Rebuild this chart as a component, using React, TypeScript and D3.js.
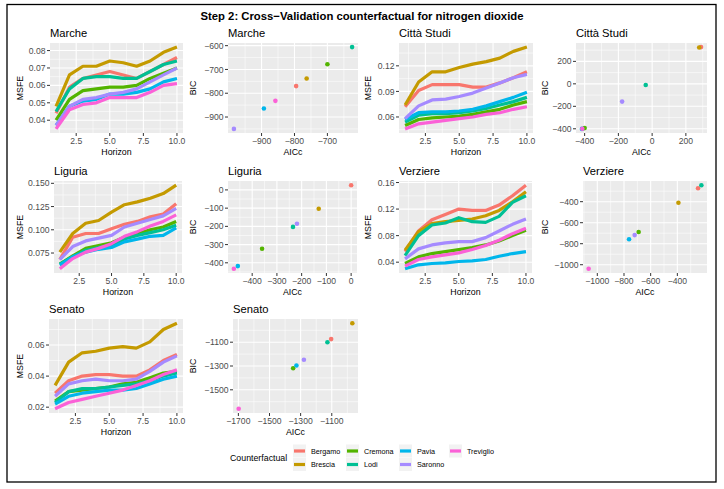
import React from "react";
import * as d3 from "d3";

const counterfactuals = ["Bergamo", "Brescia", "Cremona", "Lodi", "Pavia", "Saronno", "Treviglio"];
const palette = ["#F8766D", "#C49A00", "#53B400", "#00C094", "#00B6EB", "#A58AFF", "#FB61D7"];
const horizons = [1, 2, 3, 4, 5, 6, 7, 8, 9, 10];
const horizonTicks = [2.5, 5, 7.5, 10];

// MSFE by horizon, one row per counterfactual (Bergamo..Treviglio)
const msfeMarche = [
  [0.044, 0.059, 0.064, 0.066, 0.068, 0.066, 0.064, 0.068, 0.072, 0.076],
  [0.048, 0.066, 0.071, 0.071, 0.074, 0.073, 0.071, 0.074, 0.079, 0.082],
  [0.040, 0.052, 0.057, 0.058, 0.059, 0.059, 0.060, 0.064, 0.067, 0.070],
  [0.045, 0.058, 0.064, 0.065, 0.065, 0.064, 0.064, 0.068, 0.072, 0.074],
  [0.037, 0.048, 0.051, 0.052, 0.055, 0.055, 0.056, 0.058, 0.062, 0.064],
  [0.037, 0.048, 0.052, 0.053, 0.055, 0.056, 0.058, 0.062, 0.066, 0.070],
  [0.035, 0.046, 0.049, 0.050, 0.053, 0.053, 0.053, 0.056, 0.060, 0.061],
];
const msfeCittaStudi = [
  [0.072, 0.091, 0.098, 0.098, 0.098, 0.095, 0.095, 0.100, 0.106, 0.113],
  [0.074, 0.101, 0.113, 0.113, 0.118, 0.122, 0.125, 0.129, 0.137, 0.142],
  [0.050, 0.057, 0.059, 0.060, 0.061, 0.063, 0.066, 0.069, 0.074, 0.078],
  [0.054, 0.062, 0.064, 0.064, 0.065, 0.067, 0.070, 0.074, 0.078, 0.083],
  [0.057, 0.065, 0.066, 0.066, 0.067, 0.069, 0.073, 0.078, 0.083, 0.089],
  [0.058, 0.073, 0.080, 0.081, 0.084, 0.088, 0.094, 0.100, 0.106, 0.110],
  [0.046, 0.052, 0.054, 0.056, 0.058, 0.060, 0.063, 0.065, 0.069, 0.072],
];
const msfeLiguria = [
  [0.068, 0.092, 0.096, 0.096, 0.101, 0.106, 0.109, 0.114, 0.117, 0.128],
  [0.076, 0.096, 0.107, 0.110, 0.119, 0.127, 0.130, 0.134, 0.139, 0.148],
  [0.063, 0.072, 0.080, 0.083, 0.086, 0.092, 0.096, 0.100, 0.103, 0.109],
  [0.063, 0.071, 0.078, 0.081, 0.083, 0.090, 0.094, 0.097, 0.100, 0.105],
  [0.062, 0.071, 0.076, 0.079, 0.081, 0.087, 0.090, 0.093, 0.094, 0.102],
  [0.068, 0.082, 0.088, 0.091, 0.094, 0.103, 0.107, 0.111, 0.115, 0.123],
  [0.058, 0.069, 0.076, 0.080, 0.085, 0.093, 0.098, 0.104, 0.109, 0.116],
];
const msfeVerziere = [
  [0.056, 0.087, 0.104, 0.112, 0.120, 0.118, 0.118, 0.126, 0.140, 0.156],
  [0.058, 0.086, 0.098, 0.101, 0.103, 0.105, 0.110, 0.118, 0.131, 0.146],
  [0.038, 0.048, 0.053, 0.056, 0.059, 0.062, 0.066, 0.072, 0.080, 0.088],
  [0.050, 0.080, 0.096, 0.099, 0.107, 0.101, 0.100, 0.109, 0.130, 0.140],
  [0.030, 0.036, 0.038, 0.039, 0.041, 0.042, 0.044, 0.049, 0.053, 0.056],
  [0.045, 0.060, 0.066, 0.069, 0.071, 0.071, 0.077, 0.087, 0.097, 0.105],
  [0.034, 0.044, 0.048, 0.051, 0.054, 0.059, 0.065, 0.073, 0.083, 0.091],
];
const msfeSenato = [
  [0.029, 0.037, 0.040, 0.041, 0.041, 0.040, 0.040, 0.044, 0.050, 0.054],
  [0.034, 0.049, 0.055, 0.056, 0.058, 0.059, 0.058, 0.062, 0.070, 0.074],
  [0.024, 0.030, 0.031, 0.032, 0.033, 0.035, 0.036, 0.039, 0.042, 0.043],
  [0.023, 0.030, 0.032, 0.032, 0.033, 0.034, 0.035, 0.037, 0.040, 0.042],
  [0.022, 0.027, 0.029, 0.030, 0.031, 0.031, 0.032, 0.035, 0.038, 0.040],
  [0.027, 0.035, 0.037, 0.038, 0.037, 0.037, 0.038, 0.043, 0.049, 0.053],
  [0.019, 0.023, 0.025, 0.027, 0.029, 0.031, 0.034, 0.037, 0.041, 0.044],
];

// AICc and BIC per counterfactual (Bergamo..Treviglio)
const aiccMarche = [-795, -763, -700, -625, -893, -984, -858];
const bicMarche = [-770, -738, -678, -606, -864, -950, -832];
const aiccCittaStudi = [290, 279, -400, -38, -416, -178, -414];
const bicCittaStudi = [327, 324, -394, -10, -401, -158, -400];
const aiccLiguria = [0, -131, -360, -235, -458, -219, -474];
const bicLiguria = [26, -103, -323, -203, -418, -186, -433];
const aiccVerziere = [-245, -392, -690, -220, -762, -720, -1065];
const bicVerziere = [-272, -410, -689, -243, -757, -718, -1039];
const aiccSenato = [-1104, -968, -1348, -1128, -1327, -1279, -1698];
const bicSenato = [-1074, -941, -1319, -1100, -1296, -1248, -1659];

// tick labels
const msfeTicksMarche = [0.04, 0.05, 0.06, 0.07, 0.08];
const msfeTicksCittaStudi = [0.06, 0.09, 0.12];
const msfeTicksLiguria = [0.075, 0.1, 0.125, 0.15];
const msfeTicksVerziere = [0.04, 0.08, 0.12, 0.16];
const msfeTicksSenato = [0.02, 0.04, 0.06];
const aiccTicksMarche = [-900, -800, -700];
const bicTicksMarche = [-900, -800, -700, -600];
const aiccTicksCittaStudi = [-400, -200, 0, 200];
const bicTicksCittaStudi = [-400, -200, 0, 200];
const aiccTicksLiguria = [-400, -300, -200, -100, 0];
const bicTicksLiguria = [-400, -300, -200, -100, 0];
const aiccTicksVerziere = [-1000, -800, -600, -400];
const bicTicksVerziere = [-1000, -800, -600, -400];
const aiccTicksSenato = [-1700, -1500, -1300, -1100];
const bicTicksSenato = [-1500, -1300, -1100];

const FONT = "'Liberation Sans', Arial, Helvetica, sans-serif";

type Rect = { x0: number; x1: number; y0: number; y1: number };

function expand(vals: number[]): [number, number] {
  const lo = d3.min(vals) as number;
  const hi = d3.max(vals) as number;
  const d = (hi - lo) * 0.05;
  return [lo - d, hi + d];
}

function minorBreaks(majors: number[], dom: [number, number]) {
  const step = majors[1] - majors[0];
  const out: number[] = [];
  for (let v = majors[0] - step / 2; v <= majors[majors.length - 1] + step / 2 + 1e-9; v += step) {
    if (v >= dom[0] && v <= dom[1]) out.push(v);
  }
  return out;
}

function fmt(v: number, digits: number) {
  return v.toFixed(digits).replace("-", "\u2212");
}

type PanelProps = {
  title: string;
  rect: Rect;
  xDom: [number, number];
  yDom: [number, number];
  xTicks: number[];
  yTicks: number[];
  xDigits: number;
  yDigits: number;
  xLabel: string;
  yLabel: string;
  yLabelX: number;
  render: (x: d3.ScaleLinear<number, number>, y: d3.ScaleLinear<number, number>) => React.ReactNode;
};

function Panel(p: PanelProps) {
  const { rect } = p;
  const x = d3.scaleLinear().domain(p.xDom).range([rect.x0, rect.x1]);
  const y = d3.scaleLinear().domain(p.yDom).range([rect.y1, rect.y0]);
  const xMinor = minorBreaks(p.xTicks, p.xDom);
  const yMinor = minorBreaks(p.yTicks, p.yDom);
  const cx = (rect.x0 + rect.x1) / 2;
  const cy = (rect.y0 + rect.y1) / 2;
  return (
    <g>
      <rect x={rect.x0} y={rect.y0} width={rect.x1 - rect.x0} height={rect.y1 - rect.y0} fill="#EBEBEB" />
      {xMinor.map((v, i) => (
        <line key={"xm" + i} x1={x(v)} x2={x(v)} y1={rect.y0} y2={rect.y1} stroke="#fff" strokeWidth={0.55} />
      ))}
      {yMinor.map((v, i) => (
        <line key={"ym" + i} x1={rect.x0} x2={rect.x1} y1={y(v)} y2={y(v)} stroke="#fff" strokeWidth={0.55} />
      ))}
      {p.xTicks.map((v, i) => (
        <line key={"xM" + i} x1={x(v)} x2={x(v)} y1={rect.y0} y2={rect.y1} stroke="#fff" strokeWidth={1.1} />
      ))}
      {p.yTicks.map((v, i) => (
        <line key={"yM" + i} x1={rect.x0} x2={rect.x1} y1={y(v)} y2={y(v)} stroke="#fff" strokeWidth={1.1} />
      ))}
      {p.render(x, y)}
      {p.xTicks.map((v, i) => (
        <g key={"xt" + i}>
          <line x1={x(v)} x2={x(v)} y1={rect.y1} y2={rect.y1 + 3} stroke="#333" strokeWidth={1} />
          <text x={x(v)} y={rect.y1 + 10.5} textAnchor="middle" fontSize={8.6} fill="#4D4D4D" fontFamily={FONT}>
            {fmt(v, p.xDigits)}
          </text>
        </g>
      ))}
      {p.yTicks.map((v, i) => (
        <g key={"yt" + i}>
          <line x1={rect.x0 - 3} x2={rect.x0} y1={y(v)} y2={y(v)} stroke="#333" strokeWidth={1} />
          <text x={rect.x0 - 4.5} y={y(v) + 3.1} textAnchor="end" fontSize={8.6} fill="#4D4D4D" fontFamily={FONT}>
            {fmt(v, p.yDigits)}
          </text>
        </g>
      ))}
      <text x={cx} y={rect.y1 + 21.5} textAnchor="middle" fontSize={8.8} fill="#000" fontFamily={FONT}>
        {p.xLabel}
      </text>
      <text
        transform={`translate(${p.yLabelX + 3},${cy}) rotate(-90)`}
        textAnchor="middle"
        fontSize={8.8}
        fill="#000"
        fontFamily={FONT}
      >
        {p.yLabel}
      </text>
      <text x={rect.x0} y={rect.y0 - 6} fontSize={11.2} fill="#000" fontFamily={FONT}>
        {p.title}
      </text>
    </g>
  );
}

function msfePanel(title: string, data: number[][], yTicks: number[], yDigits: number, rect: Rect, yLabelX: number) {
  const yDom = expand(data.flat());
  const xDom = expand(horizons);
  return (
    <Panel
      key={"m" + title}
      title={title}
      rect={rect}
      xDom={xDom}
      yDom={yDom}
      xTicks={horizonTicks}
      yTicks={yTicks}
      xDigits={1}
      yDigits={yDigits}
      xLabel="Horizon"
      yLabel="MSFE"
      yLabelX={yLabelX}
      render={(x, y) => {
        const line = d3
          .line<number>()
          .x((_, i) => x(horizons[i]))
          .y((d) => y(d));
        return data.map((s, k) => (
          <path key={k} d={line(s) || ""} fill="none" stroke={palette[k]} strokeWidth={3.2} strokeLinejoin="round" />
        ));
      }}
    />
  );
}

function icPanel(
  title: string,
  aicc: number[],
  bic: number[],
  xTicks: number[],
  yTicks: number[],
  rect: Rect,
  yLabelX: number
) {
  return (
    <Panel
      key={"b" + title}
      title={title}
      rect={rect}
      xDom={expand(aicc)}
      yDom={expand(bic)}
      xTicks={xTicks}
      yTicks={yTicks}
      xDigits={0}
      yDigits={0}
      xLabel="AICc"
      yLabel="BIC"
      yLabelX={yLabelX}
      render={(x, y) =>
        aicc.map((a, k) => <circle key={k} cx={x(a)} cy={y(bic[k])} r={2.3} fill={palette[k]} />)
      }
    />
  );
}

export default function App() {
  const r1 = { y0: 43, y1: 133 };
  const r2 = { y0: 181, y1: 273 };
  const r3 = { y0: 319, y1: 413 };
  const legendCols = [293, 346, 399, 449];
  return (
    <svg
      width={724}
      height={489}
      style={{ position: "absolute", left: 0, top: 0, background: "#fff" }}
      fontFamily={FONT}
    >
      <rect x={0} y={0} width={724} height={489} fill="#fff" />
      <rect x={7} y={4.5} width={709} height={477.5} fill="none" stroke="#000" strokeWidth={1.3} />
      <text x={362} y={20} textAnchor="middle" fontSize={11.3} fontWeight="bold" fill="#000">
        Step 2: Cross{"\u2212"}Validation counterfactual for nitrogen dioxide
      </text>
      {msfePanel("Marche", msfeMarche, msfeTicksMarche, 2, { x0: 50, x1: 183, ...r1 }, 20)}
      {icPanel("Marche", aiccMarche, bicMarche, aiccTicksMarche, bicTicksMarche, { x0: 228, x1: 358, ...r1 }, 193)}
      {msfePanel("Città Studi", msfeCittaStudi, msfeTicksCittaStudi, 2, { x0: 399, x1: 533, ...r1 }, 368)}
      {icPanel("Città Studi", aiccCittaStudi, bicCittaStudi, aiccTicksCittaStudi, bicTicksCittaStudi, { x0: 576, x1: 707, ...r1 }, 545)}
      {msfePanel("Liguria", msfeLiguria, msfeTicksLiguria, 3, { x0: 54, x1: 182, ...r2 }, 20)}
      {icPanel("Liguria", aiccLiguria, bicLiguria, aiccTicksLiguria, bicTicksLiguria, { x0: 228, x1: 357, ...r2 }, 193)}
      {msfePanel("Verziere", msfeVerziere, msfeTicksVerziere, 2, { x0: 399, x1: 532, ...r2 }, 368)}
      {icPanel("Verziere", aiccVerziere, bicVerziere, aiccTicksVerziere, bicTicksVerziere, { x0: 583, x1: 707, ...r2 }, 545)}
      {msfePanel("Senato", msfeSenato, msfeTicksSenato, 2, { x0: 49, x1: 183, ...r3 }, 20)}
      {icPanel("Senato", aiccSenato, bicSenato, aiccTicksSenato, bicTicksSenato, { x0: 233, x1: 358, ...r3 }, 193)}
      <text x={230} y={461} fontSize={8.8} fill="#000">
        Counterfactual
      </text>
      {counterfactuals.map((name, i) => {
        const kx = legendCols[Math.floor(i / 2)];
        const ky = i % 2 === 0 ? 451 : 464.5;
        return (
          <g key={name}>
            <rect x={kx} y={ky - 6.5} width={13} height={13} fill="#F2F2F2" />
            <line x1={kx + 1} x2={kx + 12} y1={ky} y2={ky} stroke={palette[i]} strokeWidth={3.2} />
            <text x={kx + 18} y={ky + 2.6} fontSize={7.2} fill="#000">
              {name}
            </text>
          </g>
        );
      })}
    </svg>
  );
}
